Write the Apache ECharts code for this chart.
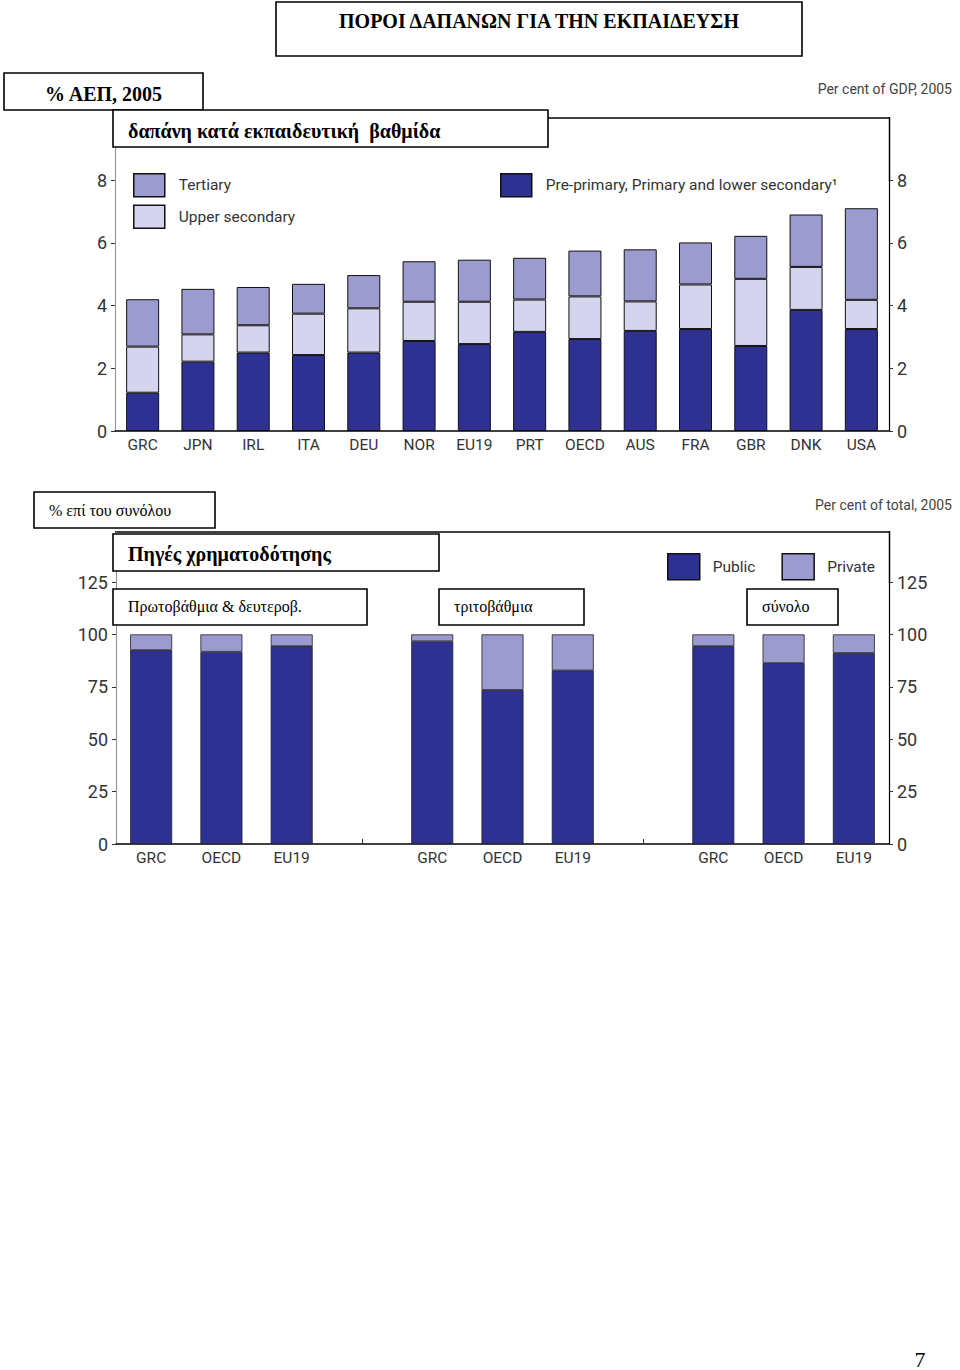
<!DOCTYPE html>
<html><head><meta charset="utf-8">
<script src="https://cdn.jsdelivr.net/npm/echarts@6/dist/echarts.min.js"></script>
<style>html,body{margin:0;padding:0;background:#fff}#c{width:960px;height:1370px}</style>
</head><body><div id="c"></div>
<script>
// ---- Top chart data: expenditure by level, % of GDP, 2005 ----
const countries = ['GRC','JPN','IRL','ITA','DEU','NOR','EU19','PRT','OECD','AUS','FRA','GBR','DNK','USA'];
const primaryLower   = [1.22,2.21,2.50,2.42,2.50,2.87,2.77,3.16,2.93,3.19,3.25,2.71,3.86,3.25];
const upperSecondary = [1.47,0.87,0.87,1.32,1.41,1.25,1.35,1.03,1.36,0.94,1.42,2.14,1.37,0.93];
const tertiary       = [1.51,1.45,1.22,0.95,1.06,1.29,1.34,1.33,1.46,1.66,1.34,1.37,1.67,2.92];
const gdpTicks = [0,2,4,6,8];

// ---- Bottom chart data: sources of funding, % of total, 2005 ----
const fundCats     = ['GRC','OECD','EU19','','GRC','OECD','EU19','','GRC','OECD','EU19'];
const publicShare  = [92.5,91.7,94.4,null,96.7,73.5,82.8,null,94.4,86.3,91.1];
const privateShare = [7.5,8.3,5.6,null,3.3,26.5,17.2,null,5.6,13.7,8.9];
const shareTicks = [0,25,50,75,100,125];

const SANS = "Roboto,'Liberation Sans',sans-serif";
const SERIF = "'Liberation Serif','Times New Roman',serif";
const DARK = '#2e3192', LIGHT = '#d4d4ee', MID = '#9b9bcf';

const chart = echarts.init(document.getElementById('c'), null, {renderer:'svg'});

function box(x,y,w,h,text,opts){
  opts = opts||{};
  return {type:'group', z:100, children:[
    {type:'rect', shape:{x:x,y:y,width:w,height:h}, style:{fill:'#fff',stroke:'#000',lineWidth:1.6}, z:100},
    {type:'text', z:101, style:{text:text, x: opts.center ? x+w/2 : x+(opts.pad||15), y: opts.ty!=null?opts.ty:y+h/2,
      align: opts.center?'center':'left', verticalAlign:'middle',
      fontFamily:SERIF, fontSize:opts.size||16, fontWeight:opts.bold?'bold':'normal', fill:'#000'}}
  ]};
}
function line(x1,y1,x2,y2,color,w){
  return {type:'line', z:50, shape:{x1:x1,y1:y1,x2:x2,y2:y2}, style:{stroke:color||'#000', lineWidth:w||1.5}};
}
function label(x,y,text,size,align,font,color){
  return {type:'text', z:60, style:{text:text,x:x,y:y,align:align||'left',verticalAlign:'middle',
    fontFamily:font||SANS,fontSize:size||18,fill:color||'#333'}};
}

function yAx(grid, pos, ticks, lineColor){
  return {type:'value', gridIndex:grid, position:pos, min:ticks[0], max:ticks[ticks.length-1],
    interval:ticks[1]-ticks[0], splitLine:{show:false},
    axisLine:{show:true, lineStyle:{color:lineColor, width:1.2}},
    axisTick:{show:true, length:4, lineStyle:{color:'#333'}},
    axisLabel:{margin:8, fontFamily:SANS, fontSize:18, color:'#333'}};
}
const legendText = {fontFamily:SANS, fontSize:15.5, color:'#333', padding:[0,0,0,9]};
const legendItem = {borderColor:'#111', borderWidth:1.5};

const option = {
  animation:false,
  backgroundColor:'#fff',
  grid:[
    {left:115, right:71, top:180, height:251, outerBoundsMode:'none'},
    {left:116, right:71, top:582, height:262, outerBoundsMode:'none'}
  ],
  xAxis:[
    {type:'category', gridIndex:0, data:countries, axisTick:{show:false},
     axisLine:{lineStyle:{color:'#000',width:1.5}},
     axisLabel:{fontFamily:SANS, fontSize:15.5, color:'#333', margin:6, interval:0}},
    {type:'category', gridIndex:1, data:fundCats,
     axisTick:{show:true, inside:true, length:5, alignWithLabel:true, interval:function(i){return i===3||i===7;}, lineStyle:{color:'#333'}},
     axisLine:{lineStyle:{color:'#000',width:1.5}},
     axisLabel:{fontFamily:SANS, fontSize:15.5, color:'#333', margin:6, interval:0}}
  ],
  yAxis:[
    yAx(0,'left',gdpTicks,'#999'), yAx(0,'right',gdpTicks,'#000'),
    yAx(1,'left',shareTicks,'#999'), yAx(1,'right',shareTicks,'#000')
  ],
  legend:[
    {data:['Tertiary','Upper secondary'], orient:'vertical', left:133, top:173, padding:0, icon:'rect',
     itemWidth:31, itemHeight:23, itemGap:7, selectedMode:false, textStyle:legendText, itemStyle:legendItem},
    {data:['Pre-primary, Primary and lower secondary\u00b9'], left:500, top:173, padding:0, icon:'rect',
     itemWidth:31, itemHeight:23, selectedMode:false, textStyle:legendText, itemStyle:legendItem},
    {data:['Public','Private'], left:667, top:553, padding:0, icon:'rect', itemWidth:32, itemHeight:26, itemGap:26,
     selectedMode:false, textStyle:Object.assign({}, legendText, {padding:[0,0,0,8]}), itemStyle:legendItem}
  ],
  series:[
    {name:'Pre-primary, Primary and lower secondary\u00b9', type:'bar', stack:'gdp', xAxisIndex:0, yAxisIndex:0,
     barWidth:33, data:primaryLower, itemStyle:{color:DARK, borderColor:'#111', borderWidth:1}},
    {name:'Upper secondary', type:'bar', stack:'gdp', xAxisIndex:0, yAxisIndex:0,
     barWidth:33, data:upperSecondary, itemStyle:{color:LIGHT, borderColor:'#111', borderWidth:1}},
    {name:'Tertiary', type:'bar', stack:'gdp', xAxisIndex:0, yAxisIndex:0,
     barWidth:33, data:tertiary, itemStyle:{color:MID, borderColor:'#111', borderWidth:1}},
    {name:'Public', type:'bar', stack:'fund', xAxisIndex:1, yAxisIndex:2,
     barWidth:42, data:publicShare, itemStyle:{color:DARK, borderColor:'#222', borderWidth:0.8}},
    {name:'Private', type:'bar', stack:'fund', xAxisIndex:1, yAxisIndex:2,
     barWidth:42, data:privateShare, itemStyle:{color:MID, borderColor:'#222', borderWidth:0.8}}
  ],
  graphic:[
    // frames
    line(548,118,889.5,118), line(889.5,117,889.5,181), line(115.5,147,115.5,181,'#999',1.2),
    line(115,532,890,532), line(889.5,531,889.5,583), line(116.5,532,116.5,583,'#999',1.2),
    // title boxes
    box(276,2,526,54,'ΠΟΡΟΙ ΔΑΠΑΝΩΝ ΓΙΑ ΤΗΝ ΕΚΠΑΙΔΕΥΣΗ',{center:true,bold:true,size:20,ty:21}),
    box(4,73,199,37,'% ΑΕΠ, 2005',{center:true,bold:true,size:20,ty:94}),
    box(113,110,435,37,'δαπάνη κατά εκπαιδευτική  βαθμίδα',{bold:true,size:20,ty:131}),
    label(952,89,'Per cent of GDP, 2005',14,'right',SANS,'#444'),
    box(34,492,181,36,'% επί του συνόλου',{size:16,ty:510}),
    label(952,505,'Per cent of total, 2005',14,'right',SANS,'#444'),
    box(113,534,326,37,'Πηγές χρηματοδότησης',{bold:true,size:20,ty:554}),
    box(113,589,254,36,'Πρωτοβάθμια & δευτεροβ.',{size:16,ty:606}),
    box(439,589,145,36,'τριτοβάθμια',{size:16,ty:606}),
    box(747,589,91,36,'σύνολο',{size:16,ty:606}),
    label(920,1359,'7',22,'center',SERIF,'#000')
  ]
};
chart.setOption(option);
</script>
</body></html>
